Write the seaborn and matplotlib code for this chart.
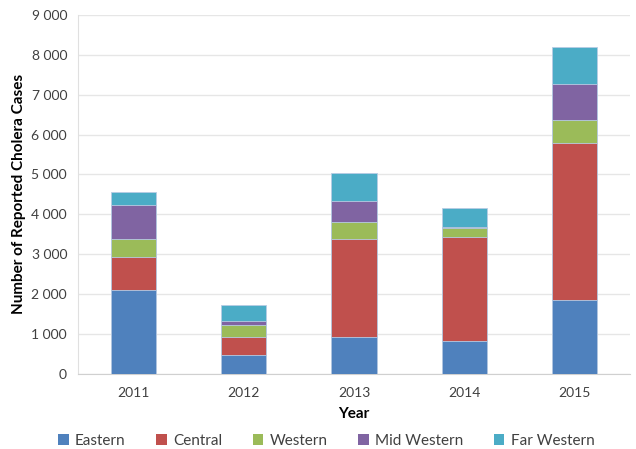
import numpy as np
import pandas as pd
import matplotlib.pyplot as plt
import seaborn as sns
from matplotlib.ticker import FuncFormatter, FixedLocator
from matplotlib.patches import Patch

# values
years = ["2011", "2012", "2013", "2014", "2015"]
regions = ["Eastern", "Central", "Western", "Mid Western", "Far Western"]
eastern = [2100, 475, 930, 830, 1855]
central = [830, 450, 2450, 2605, 3935]
western = [450, 305, 430, 225, 575]
mid_western = [855, 100, 525, 30, 905]
far_western = [325, 400, 705, 470, 925]
colors = ["#4F81BD", "#C0504D", "#9BBB59", "#8064A2", "#4BACC6"]

df = pd.DataFrame({"Year": years, "Eastern": eastern, "Central": central,
                   "Western": western, "Mid Western": mid_western,
                   "Far Western": far_western})

sns.set_style("white")
plt.rcParams["font.family"] = ["Lato", "DejaVu Sans"]

fig = plt.figure(figsize=(6.36, 4.49), dpi=100)
ax = fig.add_axes([0.123, 0.167, 0.867, 0.8])

# stacked bars: draw cumulative totals from the top layer down
cum = df[regions].cumsum(axis=1)
for reg, col in reversed(list(zip(regions, colors))):
    sns.barplot(x=df["Year"], y=cum[reg], color=col, width=0.41,
                edgecolor="#B8CCE4", linewidth=0.6, saturation=1, ax=ax, zorder=3)

ax.set_ylim(0, 9000)
ax.set_xlim(-0.5, 4.5)
ax.set_yticks(np.arange(0, 9001, 1000))
ax.yaxis.set_major_formatter(FuncFormatter(lambda v, p: f"{int(v):,}".replace(",", " ")))
ax.grid(axis="y", color="#E6E6E6", linewidth=1, zorder=0)
ax.set_axisbelow(True)

for s in ["top", "right"]:
    ax.spines[s].set_visible(False)
ax.spines["left"].set_color("#E0E0E0")
ax.spines["bottom"].set_color("#D0D0D0")

ax.xaxis.set_minor_locator(FixedLocator(np.arange(-0.5, 5, 1)))
ax.tick_params(axis="x", which="major", length=0, pad=9, labelsize=10, labelcolor="#404040")
ax.tick_params(axis="x", which="minor", length=4, color="#D0D0D0", direction="out")
ax.tick_params(axis="y", length=4, color="#E0E0E0", labelsize=10, labelcolor="#404040", pad=4)

ax.set_xlabel("Year", fontsize=11, fontweight="bold", color="#000000", labelpad=6)
ax.set_ylabel("Number of Reported Cholera Cases", fontsize=11, fontweight="bold",
              color="#000000", labelpad=4)

handles = [Patch(facecolor=c, edgecolor="none") for c in colors]
fig.legend(handles, regions, loc="center", bbox_to_anchor=(0.513, 0.018), ncol=5,
           frameon=False, fontsize=11, handlelength=0.7, handleheight=0.7,
           handletextpad=0.4, columnspacing=2.0, labelcolor="#404040")

fig.savefig("out.png", dpi=100)
